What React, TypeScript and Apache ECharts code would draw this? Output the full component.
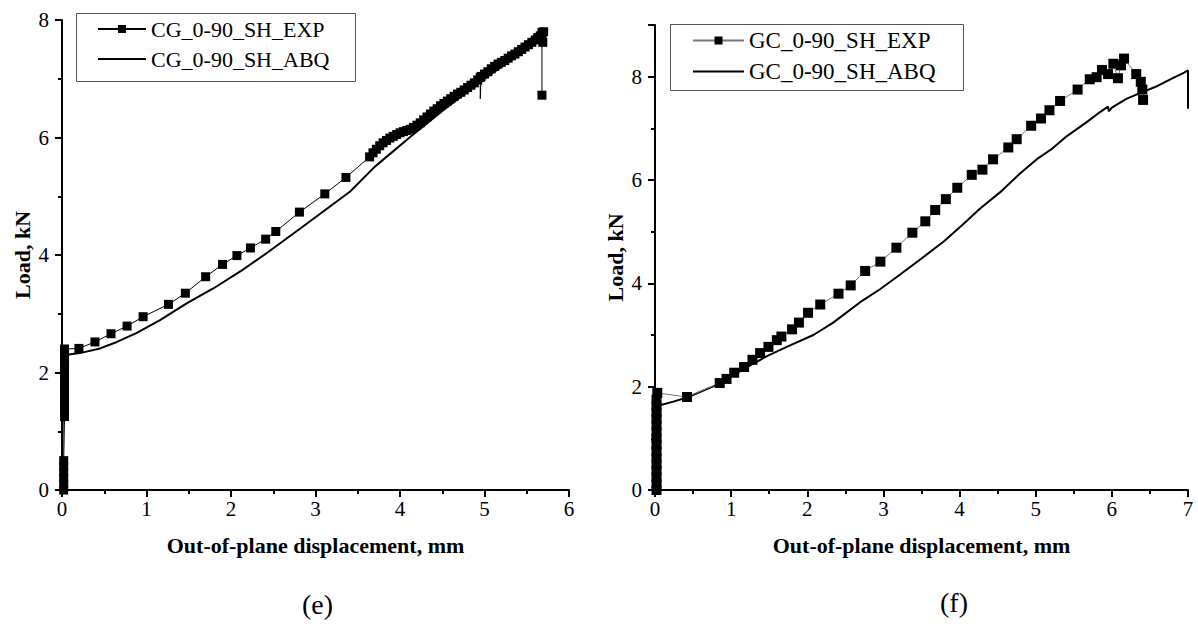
import React, { useEffect, useRef } from "react";
import * as echarts from "echarts";

const serif = "Liberation Serif";

// Panel (e)
const cgExpName = "CG_0-90_SH_EXP";
const cgAbqName = "CG_0-90_SH_ABQ";
const cgExp: (number[] | { value: number[]; symbol: string })[] = [
  [0.02, 0], [0.02, 0.1], [0.02, 0.2], [0.02, 0.3], [0.02, 0.4], [0.02, 0.5],
  [0.03, 1.25], [0.03, 1.35], [0.03, 1.45], [0.03, 1.55], [0.03, 1.65], [0.03, 1.75],
  [0.03, 1.85], [0.03, 1.95], [0.03, 2.05], [0.03, 2.15], [0.03, 2.25], [0.03, 2.35], [0.03, 2.4],
  [0.2, 2.41], [0.39, 2.52], [0.58, 2.66], [0.77, 2.79], [0.96, 2.95], [1.26, 3.16], [1.46, 3.35],
  [1.7, 3.63], [1.9, 3.84], [2.07, 3.99], [2.23, 4.12], [2.41, 4.27], [2.53, 4.4], [2.81, 4.73],
  [3.11, 5.04], [3.36, 5.32],
  [3.64, 5.67], [3.68, 5.74], [3.72, 5.8], [3.76, 5.86], [3.8, 5.91], [3.84, 5.95], [3.88, 5.99],
  [3.92, 6.02], [3.96, 6.05], [4.0, 6.08], [4.04, 6.1], [4.08, 6.12], [4.12, 6.14], [4.16, 6.17],
  [4.2, 6.21], [4.24, 6.25], [4.28, 6.3], [4.32, 6.35], [4.36, 6.4], [4.4, 6.45], [4.44, 6.49],
  [4.48, 6.54], [4.52, 6.58], [4.56, 6.62], [4.6, 6.66], [4.64, 6.7], [4.68, 6.74], [4.72, 6.77],
  [4.76, 6.81], [4.8, 6.85], [4.84, 6.89], [4.88, 6.93], [4.92, 6.98], [4.95, 7.02],
  { value: [4.95, 6.66], symbol: "none" },
  [4.96, 7.04], [5.0, 7.08], [5.04, 7.12], [5.08, 7.17], [5.12, 7.21], [5.16, 7.25], [5.2, 7.28],
  [5.24, 7.31], [5.28, 7.35], [5.32, 7.39], [5.36, 7.42], [5.4, 7.46], [5.44, 7.5], [5.48, 7.54],
  [5.52, 7.58], [5.56, 7.62], [5.6, 7.66], [5.63, 7.7], [5.66, 7.73], [5.68, 7.79], [5.69, 7.62],
  [5.7, 7.8], [5.68, 7.68], [5.68, 6.72],
];
const cgAbq: number[][] = [
  [0.0, 0], [0.01, 1.5], [0.02, 2.28], [0.1, 2.31], [0.21, 2.33], [0.45, 2.41], [0.65, 2.52],
  [0.88, 2.67], [1.16, 2.89], [1.48, 3.18], [1.79, 3.43], [2.11, 3.72], [2.42, 4.03], [2.82, 4.45],
  [3.41, 5.08], [3.7, 5.5], [4.12, 6.01], [4.5, 6.45], [5.0, 7.0], [5.4, 7.4], [5.68, 7.7],
];

// Panel (f)
const gcExpName = "GC_0-90_SH_EXP";
const gcAbqName = "GC_0-90_SH_ABQ";
const gcExp: number[][] = [
  [0.02, 0], [0.02, 0.12], [0.02, 0.25], [0.02, 0.38], [0.02, 0.5], [0.02, 0.62], [0.02, 0.75],
  [0.02, 0.88], [0.02, 1.0], [0.02, 1.12], [0.02, 1.25], [0.02, 1.38], [0.02, 1.5], [0.02, 1.62],
  [0.02, 1.75], [0.03, 1.88],
  [0.42, 1.8], [0.85, 2.07], [0.94, 2.15], [1.04, 2.27], [1.17, 2.38], [1.28, 2.52], [1.38, 2.65],
  [1.49, 2.77], [1.6, 2.9], [1.66, 2.97], [1.8, 3.11], [1.89, 3.24], [2.01, 3.43], [2.17, 3.59],
  [2.41, 3.8], [2.57, 3.96], [2.76, 4.24], [2.96, 4.42], [3.17, 4.69], [3.38, 4.98], [3.55, 5.2],
  [3.68, 5.42], [3.82, 5.63], [3.97, 5.85], [4.16, 6.1], [4.3, 6.2], [4.44, 6.4], [4.64, 6.63],
  [4.75, 6.79], [4.94, 7.05], [5.07, 7.19], [5.18, 7.35], [5.32, 7.53], [5.55, 7.75], [5.71, 7.95],
  [5.8, 7.99], [5.87, 8.13], [5.95, 8.05], [6.02, 8.25], [6.08, 7.97], [6.12, 8.22], [6.16, 8.35],
  [6.32, 8.05], [6.38, 7.9], [6.4, 7.75], [6.41, 7.55],
];
const gcAbq: number[][] = [
  [0.02, 0], [0.03, 1.0], [0.04, 1.63], [0.24, 1.71], [0.42, 1.79], [0.85, 2.06], [1.17, 2.35],
  [1.47, 2.59], [1.73, 2.77], [2.08, 3.0], [2.34, 3.24], [2.69, 3.63], [2.95, 3.88], [3.22, 4.17],
  [3.5, 4.48], [3.8, 4.82], [4.05, 5.15], [4.27, 5.45], [4.53, 5.76], [4.79, 6.12], [5.03, 6.42],
  [5.21, 6.6], [5.41, 6.85], [5.67, 7.12], [5.84, 7.31], [5.95, 7.42], [5.96, 7.33], [6.0, 7.4],
  [6.19, 7.57], [6.4, 7.7], [6.6, 7.82], [6.8, 7.97], [6.95, 8.08], [7.0, 8.12], [7.0, 7.38],
];

const xTitle = "Out-of-plane displacement, mm";
const yTitle = "Load, kN";
const panelLabels = ["(e)", "(f)"];

const lineIcon = "path://M0,0h100v4h-100z";

function xAxisCfg(gridIndex: number, max: number) {
  return {
    type: "value",
    gridIndex,
    min: 0,
    max,
    interval: 1,
    name: xTitle,
    nameLocation: "middle",
    nameGap: 44,
    nameTextStyle: { fontFamily: serif, fontSize: 22, fontWeight: "bold", color: "#000" },
    axisLine: { show: true, onZero: false, lineStyle: { color: "#000", width: 2 } },
    axisTick: { show: true, length: 7, lineStyle: { color: "#000", width: 2 } },
    minorTick: { show: true, splitNumber: 2, length: 4, lineStyle: { color: "#000", width: 2 } },
    axisLabel: { fontFamily: serif, fontSize: 21, color: "#000", margin: 8 },
    splitLine: { show: false },
  };
}

function yAxisCfg(gridIndex: number, max: number) {
  return {
    type: "value",
    gridIndex,
    min: 0,
    max,
    interval: 2,
    name: yTitle,
    nameLocation: "middle",
    nameGap: 29,
    nameTextStyle: { fontFamily: serif, fontSize: 22, fontWeight: "bold", color: "#000" },
    axisLine: { show: true, onZero: false, lineStyle: { color: "#000", width: 2 } },
    axisTick: { show: true, length: 7, lineStyle: { color: "#000", width: 2 } },
    minorTick: { show: true, splitNumber: 2, length: 4, lineStyle: { color: "#000", width: 2 } },
    axisLabel: { fontFamily: serif, fontSize: 21, color: "#000", margin: 13, showMaxLabel: max % 2 === 0 },
    splitLine: { show: false },
  };
}

function legendCfg(names: string[], left: number, top: number, itemWidth: number, padding: number[], fontSize: number) {
  return {
    data: [{ name: names[0] }, { name: names[1], icon: lineIcon }],
    orient: "vertical",
    left,
    top,
    itemWidth,
    itemHeight: 10,
    itemGap: 8,
    padding,
    borderWidth: 0,
    selectedMode: false,
    textStyle: { fontFamily: serif, fontSize, color: "#000", lineHeight: 22 },
  };
}

export default function App() {
  const ref = useRef<HTMLDivElement>(null);
  useEffect(() => {
    if (!ref.current) return;
    const chart = echarts.init(ref.current, undefined, { renderer: "svg" });
    chart.setOption({
      animation: false,
      backgroundColor: "#fff",
      grid: [
        { left: 62, top: 20, width: 507, height: 470 },
        { left: 655, top: 25, width: 533, height: 465 },
      ],
      xAxis: [xAxisCfg(0, 6), xAxisCfg(1, 7)],
      yAxis: [yAxisCfg(0, 8), yAxisCfg(1, 9)],
      legend: [
        legendCfg([cgExpName, cgAbqName], 74, 11, 48, [7, 21, 7, 23], 22),
        legendCfg([gcExpName, gcAbqName], 668, 22, 51, [7, 22, 7, 24], 23),
      ],
      graphic: [
        {
          type: "rect", left: 74, top: 11, z: 10, silent: true,
          shape: { width: 279, height: 68 },
          style: { fill: "none", stroke: "#555", lineWidth: 1 },
        },
        {
          type: "rect", left: 668, top: 22, z: 10, silent: true,
          shape: { width: 293, height: 66 },
          style: { fill: "none", stroke: "#555", lineWidth: 1 },
        },
        { type: "text", left: 302, top: 590, style: { text: panelLabels[0], font: `28px "${serif}"`, fill: "#000" } },
        { type: "text", left: 940, top: 588, style: { text: panelLabels[1], font: `28px "${serif}"`, fill: "#000" } },
      ],
      series: [
        {
          name: cgAbqName, type: "line", xAxisIndex: 0, yAxisIndex: 0, data: cgAbq,
          symbol: "none", lineStyle: { color: "#000", width: 2 }, itemStyle: { color: "#000" },
        },
        {
          name: cgExpName, type: "line", xAxisIndex: 0, yAxisIndex: 0, data: cgExp,
          symbol: "rect", symbolSize: 9, showAllSymbol: true,
          lineStyle: { color: "#000", width: 1 }, itemStyle: { color: "#000" },
        },
        {
          name: gcAbqName, type: "line", xAxisIndex: 1, yAxisIndex: 1, data: gcAbq,
          symbol: "none", lineStyle: { color: "#000", width: 2 }, itemStyle: { color: "#000" },
        },
        {
          name: gcExpName, type: "line", xAxisIndex: 1, yAxisIndex: 1, data: gcExp,
          symbol: "rect", symbolSize: 10, showAllSymbol: true,
          lineStyle: { color: "#777", width: 1 }, itemStyle: { color: "#000" },
        },
      ],
    });
    return () => chart.dispose();
  }, []);
  return (
    <div
      ref={ref}
      style={{ position: "fixed", left: 0, top: 0, width: 1198, height: 626, background: "#fff" }}
    />
  );
}
